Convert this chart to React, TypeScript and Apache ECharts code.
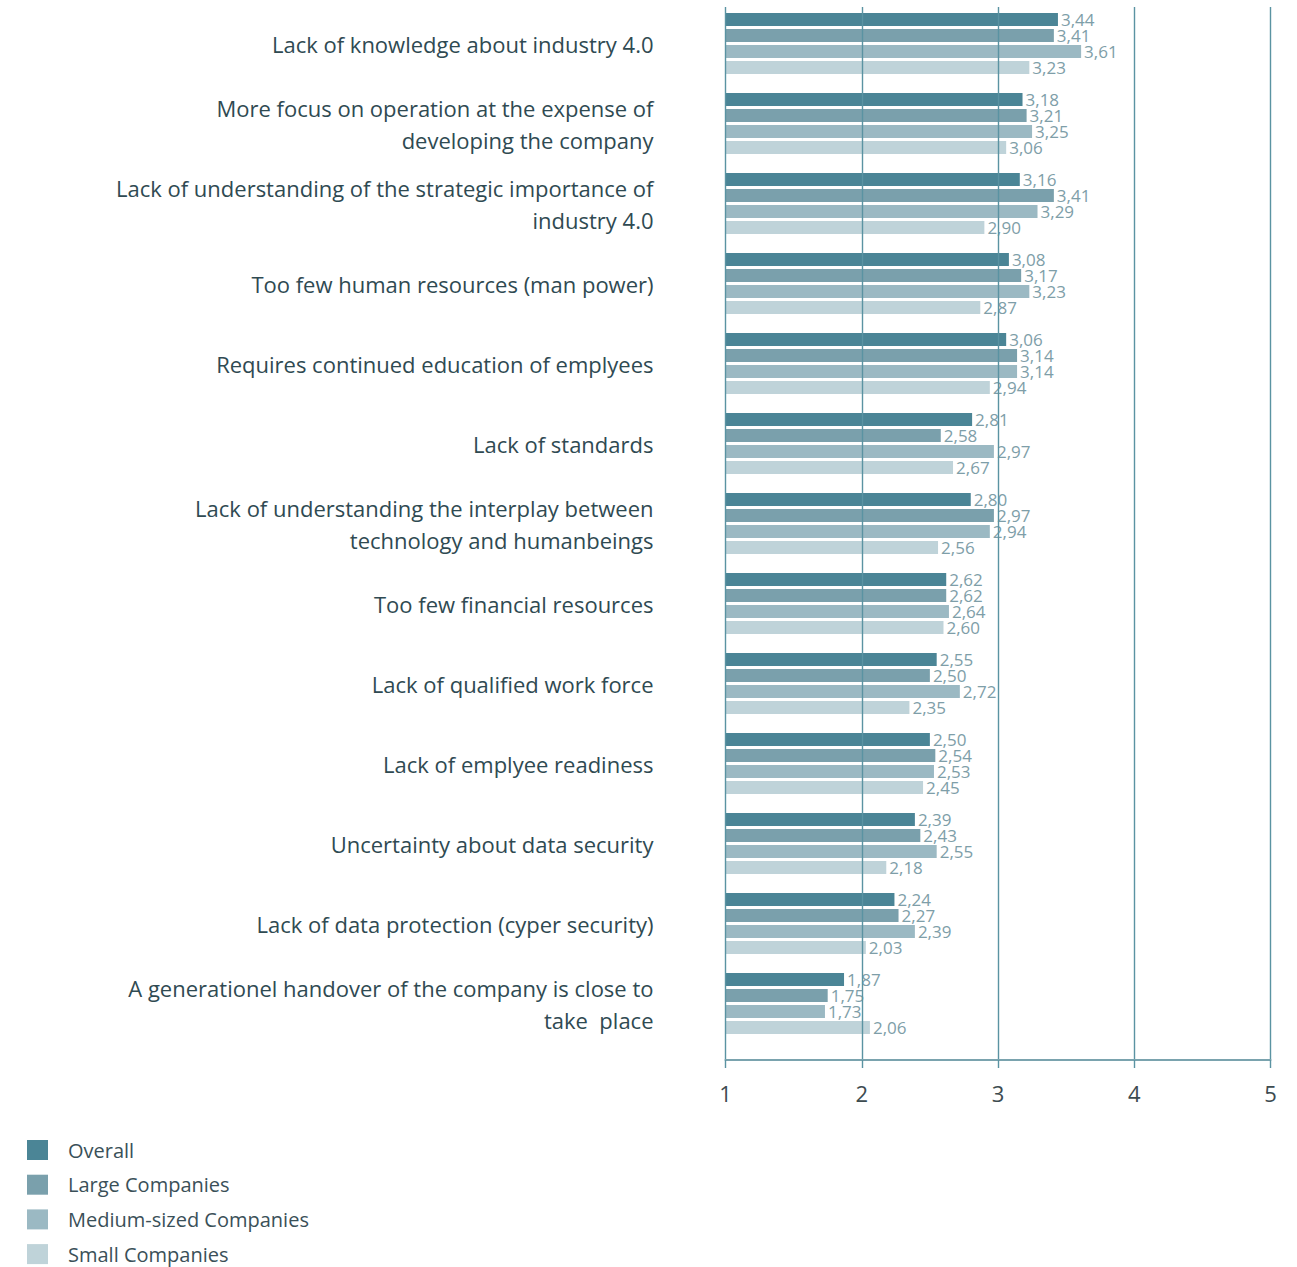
import React, { useEffect, useRef } from "react";
import * as echarts from "echarts";

const categories = [
  "Lack of knowledge about industry 4.0",
  "More focus on operation at the expense of\ndeveloping the company",
  "Lack of understanding of the strategic importance of\nindustry 4.0",
  "Too few human resources (man power)",
  "Requires continued education of emplyees",
  "Lack of standards",
  "Lack of understanding the interplay between\ntechnology and humanbeings",
  "Too few financial resources",
  "Lack of qualified work force",
  "Lack of emplyee readiness",
  "Uncertainty about data security",
  "Lack of data protection (cyper security)",
  "A generationel handover of the company is close to\ntake  place",
];

const overall = [3.44, 3.18, 3.16, 3.08, 3.06, 2.81, 2.8, 2.62, 2.55, 2.5, 2.39, 2.24, 1.87];
const large = [3.41, 3.21, 3.41, 3.17, 3.14, 2.58, 2.97, 2.62, 2.5, 2.54, 2.43, 2.27, 1.75];
const medium = [3.61, 3.25, 3.29, 3.23, 3.14, 2.97, 2.94, 2.64, 2.72, 2.53, 2.55, 2.39, 1.73];
const small = [3.23, 3.06, 2.9, 2.87, 2.94, 2.67, 2.56, 2.6, 2.35, 2.45, 2.18, 2.03, 2.06];

const seriesNames = ["Overall", "Large Companies", "Medium-sized Companies", "Small Companies"];
const seriesColors = ["#4b8596", "#7aa0ac", "#9bb9c3", "#bfd3d9"];
const seriesData = [overall, large, medium, small];

const FONT = "'Open Sans', sans-serif";

export default function App() {
  const ref = useRef<HTMLDivElement>(null);
  useEffect(() => {
    document.body.style.margin = "0";
    const chart = echarts.init(ref.current!, null, { renderer: "svg" });
    const option: any = {
      animation: false,
      textStyle: { fontFamily: FONT },
      grid: [
        { left: 725.5, width: 545, top: 7, height: 1053 },
        { left: 725.5, width: 545, top: 3.5, height: 1040 },
      ],
      xAxis: [
        {
          gridIndex: 0,
          type: "value",
          min: 1,
          max: 5,
          interval: 1,
          z: 5,
          splitLine: { show: true, lineStyle: { color: "#5a93a2", width: 1.4 } },
          axisLine: { show: true, lineStyle: { color: "#7aa3ae", width: 2 } },
          axisTick: { show: true, length: 8, lineStyle: { color: "#5a93a2", width: 1.4 } },
          axisLabel: { fontSize: 22, color: "#3d4b50", margin: 22, fontFamily: FONT },
        },
        {
          gridIndex: 1,
          type: "value",
          min: 1,
          max: 5,
          interval: 1,
          show: false,
          splitLine: { show: false },
        },
      ],
      yAxis: [
        { gridIndex: 0, type: "value", min: 0, max: 1, show: false, splitLine: { show: false } },
        {
          gridIndex: 1,
          type: "category",
          inverse: true,
          data: categories,
          axisLine: { show: false },
          axisTick: { show: false },
          splitLine: { show: false },
          axisLabel: {
            fontSize: 22,
            lineHeight: 32,
            color: "#2f4a52",
            margin: 72,
            fontFamily: FONT,
          },
        },
      ],
      legend: {
        orient: "vertical",
        left: 27,
        top: 1140,
        padding: 0,
        height: 130,
        itemWidth: 21,
        itemHeight: 20,
        itemGap: 14.7,
        icon: "rect",
        data: seriesNames,
        textStyle: { fontSize: 20, color: "#3a5058", fontFamily: FONT, padding: [0, 0, 0, 15] },
      },
      series: seriesNames.map((name, i) => ({
        name,
        type: "bar",
        xAxisIndex: 1,
        yAxisIndex: 1,
        data: seriesData[i],
        barWidth: 13,
        barGap: "23%",
        itemStyle: { color: seriesColors[i] },
        label: {
          show: true,
          position: "right",
          distance: 3,
          fontSize: 17,
          color: "#7e9ea8",
          fontFamily: FONT,
          formatter: (p: any) => Number(p.value).toFixed(2).replace(".", ","),
        },
      })),
    };
    chart.setOption(option);
    return () => chart.dispose();
  }, []);
  return <div ref={ref} style={{ width: 1297, height: 1267 }} />;
}
